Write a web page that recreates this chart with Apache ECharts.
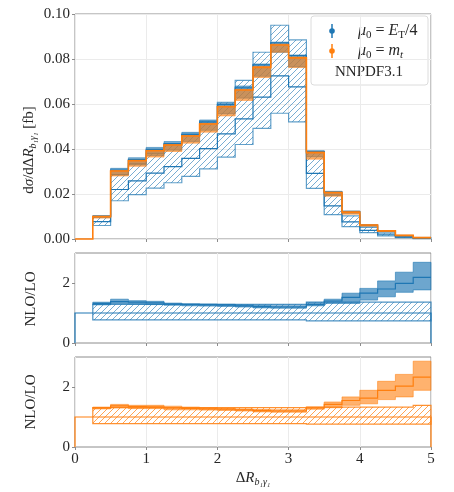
<!DOCTYPE html>
<html><head><meta charset="utf-8">
<script src="https://cdn.jsdelivr.net/npm/echarts@6/dist/echarts.min.js"></script>
<style>html,body{margin:0;padding:0;background:#fff}#c{width:454px;height:492px}</style>
</head><body><div id="c"></div>
<script>
// ---- data ----
const edges = [0, 0.25, 0.5, 0.75, 1, 1.25, 1.5, 1.75, 2, 2.25, 2.5, 2.75, 3, 3.25, 3.5, 3.75, 4, 4.25, 4.5, 4.75, 5];
const xTicks = [0, 1, 2, 3, 4, 5];
const yTicksTop = [0, 0.02, 0.04, 0.06, 0.08, 0.1];
const yTicksRatio = [0, 2];

// LO, mu0 = E_T/4 (hatched band)
const loCentral = [null, .0077, .0220, .0258, .0293, .0322, .0358, .0402, .0467, .0534, .0631, .0725, .0676, .0292, .0147, .0076, .0038, .0019, .0008, .00026];
const loLow     = [null, .0060, .0170, .0197, .0226, .0250, .0278, .0312, .0364, .0420, .0492, .0559, .0521, .0225, .0108, .0055, .0028, .0014, .0006, .0002];
const loHigh    = [null, .0100, .0286, .0335, .0381, .0419, .0465, .0523, .0607, .0705, .0830, .0950, .0885, .0390, .0195, .0103, .0052, .0026, .0011, .00035];

// NLO, mu0 = E_T/4
const nloEtCentral = [null, .0101, .0306, .0353, .0398, .0424, .0465, .0519, .0597, .0672, .0774, .0872, .0815, .0389, .0208, .0122, .0061, .0034, .0015, .0006];
const nloEtLow     = [null, .0095, .0285, .0329, .0371, .0395, .0433, .0483, .0556, .0626, .0723, .0830, .0765, .0365, .0195, .0114, .0057, .0031, .0013, .0005];
const nloEtHigh    = [null, .0104, .0314, .0361, .0407, .0433, .0474, .0529, .0602, .0680, .0778, .0875, .0818, .0392, .0212, .0125, .0064, .0036, .0016, .0007];

// NLO, mu0 = m_t
const nloMtCentral = [0, .0100, .0302, .0348, .0392, .0418, .0458, .0511, .0588, .0662, .0763, .0862, .0805, .0384, .0206, .0119, .0062, .0036, .0016, .0006];
const nloMtLow     = [null, .0093, .0280, .0323, .0364, .0389, .0426, .0475, .0547, .0616, .0718, .0830, .0762, .0355, .0190, .0110, .0057, .0033, .0014, .00055];
const nloMtHigh    = [null, .0101, .0304, .0350, .0394, .0420, .0460, .0514, .0591, .0665, .0767, .0866, .0809, .0387, .0208, .0123, .0063, .0037, .0017, .0007];

// Ratio NLO/LO, mu0 = E_T/4
const rEtCentral = [null, 1.32, 1.38, 1.36, 1.34, 1.30, 1.28, 1.27, 1.26, 1.24, 1.21, 1.20, 1.20, 1.28, 1.40, 1.52, 1.66, 1.80, 1.99, 2.19];
const rEtLow     = [null, 1.27, 1.32, 1.30, 1.28, 1.26, 1.24, 1.23, 1.22, 1.20, 1.17, 1.16, 1.16, 1.24, 1.32, 1.32, 1.43, 1.54, 1.69, 1.77];
const rEtHigh    = [null, 1.36, 1.46, 1.41, 1.39, 1.33, 1.31, 1.30, 1.29, 1.27, 1.25, 1.24, 1.24, 1.34, 1.46, 1.66, 1.82, 2.07, 2.36, 2.69];
const rEtLoLow   = [null, .77, .77, .77, .77, .77, .77, .77, .77, .77, .77, .77, .77, .74, .74, .74, .74, .74, .74, .74];
const rEtLoHigh  = [null, 1.29, 1.29, 1.29, 1.29, 1.29, 1.29, 1.29, 1.29, 1.29, 1.29, 1.29, 1.29, 1.36, 1.36, 1.36, 1.36, 1.36, 1.36, 1.36];

// Ratio NLO/LO, mu0 = m_t
const rMtCentral = [null, 1.30, 1.37, 1.35, 1.34, 1.30, 1.29, 1.27, 1.26, 1.24, 1.21, 1.20, 1.20, 1.30, 1.42, 1.55, 1.63, 1.89, 2.03, 2.33];
const rMtLow     = [null, 1.27, 1.31, 1.28, 1.28, 1.24, 1.24, 1.23, 1.22, 1.20, 1.17, 1.16, 1.16, 1.26, 1.31, 1.39, 1.44, 1.58, 1.67, 1.89];
const rMtHigh    = [null, 1.33, 1.42, 1.39, 1.39, 1.36, 1.33, 1.31, 1.29, 1.27, 1.25, 1.24, 1.24, 1.33, 1.50, 1.67, 1.89, 2.19, 2.42, 2.86];
const rMtLoLow   = [null, .78, .78, .78, .78, .78, .78, .78, .78, .78, .78, .78, .78, .76, .76, .76, .76, .76, .76, .76];
const rMtLoHigh  = [null, 1.31, 1.31, 1.31, 1.31, 1.31, 1.31, 1.31, 1.31, 1.31, 1.31, 1.31, 1.31, 1.33, 1.33, 1.33, 1.33, 1.33, 1.33, 1.39];

const ratioRef = [1, 1, 1, 1, 1, 1, 1, 1, 1, 1, 1, 1, 1, 1, 1, 1, 1, 1, 1, 1];

// ---- styling ----
const BLUE = '#1f77b4', ORANGE = '#ff7f0e';
const FONT = 'Liberation Serif';
const TXT = '#262626';

function hatch(color) {
  const c = document.createElement('canvas');
  c.width = 6; c.height = 6;
  const g = c.getContext('2d');
  g.strokeStyle = color; g.lineWidth = 1;
  g.beginPath();
  g.moveTo(0, 6); g.lineTo(6, 0);
  g.moveTo(-3, 3); g.lineTo(3, -3);
  g.moveTo(3, 9); g.lineTo(9, 3);
  g.stroke();
  return c;
}

const series = [];
function band(gi, lo, hi, style) {
  series.push({
    type: 'custom', xAxisIndex: gi, yAxisIndex: gi, coordinateSystem: 'cartesian2d',
    data: [[0, 0]], silent: true, animation: false,
    renderItem: function (p, api) {
      const up = [], dn = [];
      for (let i = 0; i < lo.length; i++) {
        if (lo[i] == null) continue;
        up.push(api.coord([edges[i], hi[i]]), api.coord([edges[i + 1], hi[i]]));
        dn.push(api.coord([edges[i], lo[i]]), api.coord([edges[i + 1], lo[i]]));
      }
      return { type: 'polygon', shape: { points: up.concat(dn.reverse()) }, style: style };
    }
  });
}
function stepLine(gi, vals, color, lw, dropStart, dropEnd) {
  series.push({
    type: 'custom', xAxisIndex: gi, yAxisIndex: gi, coordinateSystem: 'cartesian2d',
    data: [[0, 0]], silent: true, animation: false,
    renderItem: function (p, api) {
      const pts = [];
      let first = -1, last = -1;
      for (let i = 0; i < vals.length; i++) {
        if (vals[i] == null) continue;
        if (first < 0) first = i;
        last = i;
        pts.push(api.coord([edges[i], vals[i]]), api.coord([edges[i + 1], vals[i]]));
      }
      if (dropStart) pts.unshift(api.coord([edges[first], 0]));
      if (dropEnd) pts.push(api.coord([edges[last + 1], 0]));
      return { type: 'polyline', shape: { points: pts }, style: { stroke: color, lineWidth: lw, fill: null } };
    }
  });
}

// top panel
band(0, loLow, loHigh, { fill: { image: hatch('rgba(31,119,180,0.6)'), repeat: 'repeat' }, stroke: 'rgba(31,119,180,0.7)', lineWidth: 1.2 });
stepLine(0, loCentral, BLUE, 1.2, false, false);
band(0, nloEtLow, nloEtHigh, { fill: 'rgba(31,119,180,0.6)', stroke: 'rgba(31,119,180,0.7)', lineWidth: 0.8 });
stepLine(0, nloEtCentral, BLUE, 1.2, false, false);
band(0, nloMtLow, nloMtHigh, { fill: 'rgba(255,127,14,0.6)', stroke: 'rgba(255,127,14,0.6)', lineWidth: 0.8 });
stepLine(0, nloMtCentral, ORANGE, 1.6, false, false);

// ratio E_T/4
band(1, rEtLoLow, rEtLoHigh, { fill: { image: hatch('rgba(31,119,180,0.6)'), repeat: 'repeat' }, stroke: 'rgba(31,119,180,0.8)', lineWidth: 1.2 });
stepLine(1, ratioRef, BLUE, 1.2, true, true);
band(1, rEtLow, rEtHigh, { fill: 'rgba(31,119,180,0.65)', stroke: 'rgba(31,119,180,0.75)', lineWidth: 0.8 });
stepLine(1, rEtCentral, BLUE, 1.2, false, false);

// ratio m_t
band(2, rMtLoLow, rMtLoHigh, { fill: { image: hatch('rgba(255,127,14,0.7)'), repeat: 'repeat' }, stroke: 'rgba(255,127,14,0.85)', lineWidth: 1.2 });
stepLine(2, ratioRef, ORANGE, 1.2, true, true);
band(2, rMtLow, rMtHigh, { fill: 'rgba(255,127,14,0.6)', stroke: 'rgba(255,127,14,0.7)', lineWidth: 0.8 });
stepLine(2, rMtCentral, ORANGE, 1.2, false, false);

const gridBase = { left: 75, width: 356, show: true, borderColor: '#8c8c8c', borderWidth: 1, backgroundColor: 'transparent' };
const splitLine = { show: true, lineStyle: { color: '#ebebeb', width: 1 } };
const axisTick = { show: true, length: 3, lineStyle: { color: '#8c8c8c' } };
const labelStyle = { color: TXT, fontFamily: FONT, fontSize: 15 };

function xAxis(gi, showLabel) {
  return {
    type: 'value', gridIndex: gi, min: xTicks[0], max: xTicks[xTicks.length - 1], interval: 1,
    axisLine: { show: false }, axisTick: axisTick, splitLine: splitLine,
    axisLabel: Object.assign({ show: showLabel, margin: 5 }, labelStyle)
  };
}

const option = {
  animation: false,
  backgroundColor: '#fff',
  grid: [
    Object.assign({ top: 14, height: 225 }, gridBase),
    Object.assign({ top: 253, height: 90 }, gridBase),
    Object.assign({ top: 357, height: 90 }, gridBase)
  ],
  xAxis: [xAxis(0, false), xAxis(1, false), xAxis(2, true)],
  yAxis: [
    { type: 'value', gridIndex: 0, min: yTicksTop[0], max: yTicksTop[yTicksTop.length - 1], interval: 0.02,
      axisLine: { show: false }, axisTick: axisTick, splitLine: splitLine,
      axisLabel: Object.assign({ margin: 5, formatter: v => v.toFixed(2) }, labelStyle) },
    { type: 'value', gridIndex: 1, min: 0, max: 3, interval: 2,
      axisLine: { show: false }, axisTick: axisTick, splitLine: { show: false },
      axisLabel: Object.assign({ margin: 5, showMaxLabel: false, formatter: v => (yTicksRatio.indexOf(v) >= 0 ? String(v) : '') }, labelStyle) },
    { type: 'value', gridIndex: 2, min: 0, max: 3, interval: 2,
      axisLine: { show: false }, axisTick: axisTick, splitLine: { show: false },
      axisLabel: Object.assign({ margin: 5, showMaxLabel: false, formatter: v => (yTicksRatio.indexOf(v) >= 0 ? String(v) : '') }, labelStyle) }
  ],
  series: series,
  graphic: [
    { type: 'text', x: 29, y: 150, rotation: Math.PI / 2, silent: true,
      style: { text: 'd{i|σ}/dΔ{i|R}{s|b₁γ₁} [fb]', fontFamily: FONT, fontSize: 15, fill: TXT, lineHeight: 18,
        align: 'center', verticalAlign: 'middle',
        rich: { i: { fontStyle: 'italic', fontFamily: FONT, fontSize: 15, lineHeight: 18 },
                s: { fontStyle: 'italic', fontFamily: FONT, fontSize: 10, lineHeight: 10, padding: [8, 0, 0, 0] } } } },
    { type: 'text', x: 31, y: 299, rotation: Math.PI / 2, silent: true,
      style: { text: 'NLO/LO', fontFamily: FONT, fontSize: 15, fill: TXT, align: 'center', verticalAlign: 'middle' } },
    { type: 'text', x: 31, y: 402, rotation: Math.PI / 2, silent: true,
      style: { text: 'NLO/LO', fontFamily: FONT, fontSize: 15, fill: TXT, align: 'center', verticalAlign: 'middle' } },
    { type: 'text', x: 253, y: 478, silent: true,
      style: { text: 'Δ{i|R}{s|b₁γ₁}', fontFamily: FONT, fontSize: 15, fill: TXT, lineHeight: 18,
        align: 'center', verticalAlign: 'middle',
        rich: { i: { fontStyle: 'italic', fontFamily: FONT, fontSize: 15, lineHeight: 18 },
                s: { fontStyle: 'italic', fontFamily: FONT, fontSize: 10, lineHeight: 10, padding: [8, 0, 0, 0] } } } },
    // legend
    { type: 'rect', shape: { x: 311, y: 16, width: 117, height: 69, r: 3 }, silent: true,
      style: { fill: 'rgba(255,255,255,0.85)', stroke: '#dcdcdc', lineWidth: 1 } },
    { type: 'line', shape: { x1: 332, y1: 24, x2: 332, y2: 38 }, style: { stroke: BLUE, lineWidth: 1.5 }, silent: true },
    { type: 'circle', shape: { cx: 332, cy: 31, r: 2.8 }, style: { fill: BLUE }, silent: true },
    { type: 'line', shape: { x1: 332, y1: 44, x2: 332, y2: 58 }, style: { stroke: ORANGE, lineWidth: 1.5 }, silent: true },
    { type: 'circle', shape: { cx: 332, cy: 51, r: 2.8 }, style: { fill: ORANGE }, silent: true },
    { type: 'text', x: 358, y: 31, silent: true,
      style: { text: '{i|μ}{s|0} = {i|E}{s|T}/4', fontFamily: FONT, fontSize: 16, fill: TXT, lineHeight: 19,
        align: 'left', verticalAlign: 'middle',
        rich: { i: { fontStyle: 'italic', fontFamily: FONT, fontSize: 16, lineHeight: 19 },
                s: { fontFamily: FONT, fontSize: 11, lineHeight: 11, padding: [8, 0, 0, 0] } } } },
    { type: 'text', x: 358, y: 51, silent: true,
      style: { text: '{i|μ}{s|0} = {i|m}{t|t}', fontFamily: FONT, fontSize: 16, fill: TXT, lineHeight: 19,
        align: 'left', verticalAlign: 'middle',
        rich: { i: { fontStyle: 'italic', fontFamily: FONT, fontSize: 16, lineHeight: 19 },
                s: { fontFamily: FONT, fontSize: 11, lineHeight: 11, padding: [8, 0, 0, 0] },
                t: { fontStyle: 'italic', fontFamily: FONT, fontSize: 11, lineHeight: 11, padding: [8, 0, 0, 0] } } } },
    { type: 'text', x: 369, y: 72, silent: true,
      style: { text: 'NNPDF3.1', fontFamily: FONT, fontSize: 15, fill: TXT, align: 'center', verticalAlign: 'middle' } }
  ]
};

const chart = echarts.init(document.getElementById('c'), null, { renderer: 'canvas' });
chart.setOption(option);
</script>
</body></html>
